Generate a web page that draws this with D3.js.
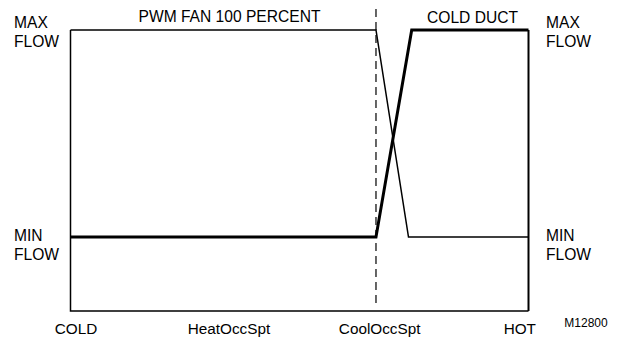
<!DOCTYPE html>
<html>
<head>
<meta charset="utf-8">
<script src="https://cdn.jsdelivr.net/npm/d3@7"></script>
<style>
  html, body { margin: 0; padding: 0; background: #fff; }
  svg { display: block; }
  text { font-family: Arial, "Liberation Sans", sans-serif; fill: #000; }
</style>
</head>
<body>
<svg id="chart" width="619" height="339"></svg>
<script>
// Temperature axis labels and their positions along the span (0 = cold end, 100 = hot end)
const tempLabels = ["COLD", "HeatOccSpt", "CoolOccSpt", "HOT"];
const tempLabelPos = [1.2, 34.6, 67.5, 98.1];

// Airflow levels (percent of full scale)
const flowLevels = ["MAX FLOW", "MIN FLOW"];
const flowLevelValues = [100, 26.3];

// Cooling setpoint marker
const coolSetpoint = 66.7;

// PWM fan output: full flow until the cooling setpoint, then drops to min
const pwmFanTemp = [0, 66.7, 73.8, 100];
const pwmFanFlow = [100, 100, 26.3, 26.3];

// Cold duct damper: min flow until the cooling setpoint, then rises to max
const coldDuctTemp = [0, 66.7, 74.5, 100];
const coldDuctFlow = [26.3, 26.3, 100, 100];

const seriesTitles = ["PWM FAN 100 PERCENT", "COLD DUCT"];
const figureId = "M12800";

const svg = d3.select("#chart");
const plotL = 70.5, plotR = 528.5, plotT = 30, plotB = 311;

const x = d3.scaleLinear().domain([0, 100]).range([plotL, plotR]);
const y = d3.scaleLinear().domain([0, 100]).range([plotB, plotT]);

const line = d3.line().x(d => x(d[0])).y(d => y(d[1]));

// Frame: left, bottom and right edges
svg.append("path")
  .attr("d", `M${plotL},${plotT}V${plotB}H${plotR}`)
  .attr("fill", "none").attr("stroke", "#000").attr("stroke-width", 1.5);
svg.append("line")
  .attr("x1", plotR).attr("x2", plotR).attr("y1", plotT).attr("y2", plotB)
  .attr("stroke", "#000").attr("stroke-width", 2);

// Dashed cooling setpoint marker
svg.append("line")
  .attr("x1", x(coolSetpoint)).attr("x2", x(coolSetpoint))
  .attr("y1", 9).attr("y2", 308)
  .attr("stroke", "#000").attr("stroke-width", 1.2)
  .attr("stroke-dasharray", "8,5");

// PWM fan line (thin)
svg.append("path")
  .datum(d3.zip(pwmFanTemp, pwmFanFlow))
  .attr("d", line)
  .attr("fill", "none").attr("stroke", "#000").attr("stroke-width", 1.5)
  .attr("stroke-linejoin", "miter");

// Cold duct line (thick)
svg.append("path")
  .datum(d3.zip(coldDuctTemp, coldDuctFlow))
  .attr("d", line)
  .attr("fill", "none").attr("stroke", "#000").attr("stroke-width", 3)
  .attr("stroke-linejoin", "miter");

// Series titles
svg.append("text").attr("x", 229.5).attr("y", 22)
  .attr("text-anchor", "middle").attr("font-size", 15.6).text(seriesTitles[0]);
svg.append("text").attr("x", 472.5).attr("y", 23)
  .attr("text-anchor", "middle").attr("font-size", 15.6).text(seriesTitles[1]);

// Flow level labels on both sides
const levelOffsets = [-2, 4];
flowLevels.forEach((lab, i) => {
  const words = lab.split(" ");
  [14, 546].forEach(px => {
    const t = svg.append("text").attr("x", px).attr("y", y(flowLevelValues[i]) + levelOffsets[i])
      .attr("font-size", 15.6);
    words.forEach((w, j) => {
      t.append("tspan").attr("x", px).attr("dy", j === 0 ? 0 : 19.3).text(w);
    });
  });
});

// Temperature labels along the bottom
svg.selectAll("text.temp")
  .data(tempLabels)
  .join("text")
  .attr("class", "temp")
  .attr("x", (d, i) => x(tempLabelPos[i]))
  .attr("y", 333.5)
  .attr("text-anchor", "middle")
  .attr("font-size", 15.3)
  .text(d => d);

// Figure reference
svg.append("text").attr("x", 586).attr("y", 327)
  .attr("text-anchor", "middle").attr("font-size", 12).text(figureId);
</script>
</body>
</html>
